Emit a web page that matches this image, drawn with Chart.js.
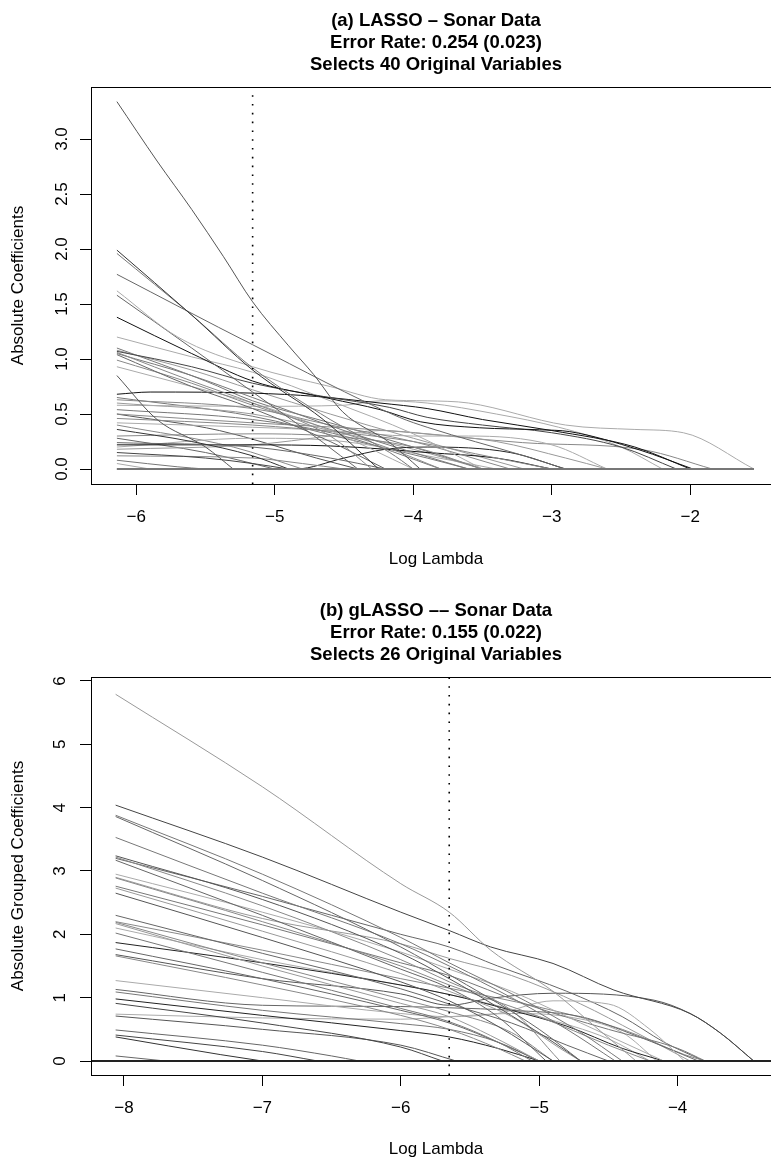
<!DOCTYPE html>
<html>
<head>
<meta charset="utf-8">
<script src="https://cdn.jsdelivr.net/npm/chart.js@4.4.1/dist/chart.umd.min.js"></script>
<style>
  html, body { margin: 0; padding: 0; background: #fff; overflow: hidden; }
  .panel { position: absolute; left: 0; }
</style>
</head>
<body>
<div class="panel" style="top:0"><canvas id="lassoChart" width="781" height="580"></canvas></div>
<div class="panel" style="top:580px"><canvas id="glassoChart" width="781" height="581"></canvas></div>
<script>
// panel (a): lasso paths, each [log lambda, |coef|]
const lassoTitle = ["(a) LASSO \u2013 Sonar Data", "Error Rate: 0.254 (0.023)", "Selects 40 Original Variables"];
const lassoXTicks = [-6, -5, -4, -3, -2];
const lassoYTicks = [0, 0.5, 1, 1.5, 2, 2.5, 3];
const lassoCvLambda = -5.16;
const lassoPaths = [
  [[-6.14,3.34],[-5.85,2.80],[-5.6,2.36],[-5.37,1.93],[-5.16,1.52],[-4.9,1.12],[-4.72,0.86],[-4.51,0.52],[-4.17,0.24],[-3.95,0]],
  [[-6.14,1.99],[-5.6,1.4],[-5.16,0.90],[-4.65,0.45],[-4.25,0]],
  [[-6.14,1.96],[-5.6,1.4],[-5.16,0.92],[-4.6,0.45],[-4.17,0.15],[-4.0,0]],
  [[-6.14,1.77],[-5.16,1.13],[-4.1,0.47],[-3.9,0.38],[-3.2,0.12],[-2.9,0]],
  [[-6.14,1.62],[-5.7,1.2],[-5.16,0.93],[-4.6,0.75],[-4.2,0.63],[-3.9,0.62],[-3.6,0.60],[-2.9,0.40],[-2.4,0.36],[-2.05,0.33],[-1.54,0]],
  [[-6.14,1.58],[-5.6,1.1],[-5.16,0.70],[-4.65,0.24],[-4.4,0]],
  [[-6.14,1.38],[-5.6,1.05],[-5.16,0.80],[-4.6,0.64],[-4.24,0.54],[-3.95,0.43],[-3.52,0.375],[-3.09,0.357],[-2.87,0.34],[-2.37,0.175],[-1.98,0]],
  [[-6.14,1.20],[-5.6,1.02],[-5.16,0.88],[-4.6,0.62],[-4.0,0.32],[-3.5,0]],
  [[-6.14,1.07],[-5.6,0.93],[-5.16,0.78],[-4.65,0.66],[-4.17,0.56],[-3.9,0.47],[-3.5,0.40],[-3.0,0.33],[-2.5,0.2],[-2.1,0]],
  [[-6.14,1.06],[-5.6,0.8],[-5.16,0.60],[-4.6,0.3],[-4.3,0]],
  [[-6.14,1.05],[-5.6,0.85],[-5.16,0.65],[-4.5,0.35],[-4.0,0.15],[-3.6,0]],
  [[-6.14,1.04],[-5.6,0.75],[-5.16,0.55],[-4.6,0.25],[-4.2,0]],
  [[-6.14,0.99],[-5.6,0.78],[-5.16,0.58],[-4.7,0.40],[-4.2,0.2],[-3.8,0]],
  [[-6.14,0.93],[-5.6,0.75],[-5.16,0.60],[-4.6,0.35],[-4.0,0]],
  [[-6.14,0.85],[-5.85,0.45],[-5.5,0.2],[-5.3,0]],
  [[-6.14,0.68],[-5.9,0.70],[-5.16,0.69],[-4.7,0.66],[-4.24,0.60],[-3.9,0.55],[-3.5,0.45],[-3.0,0.35],[-2.4,0.2],[-2.0,0]],
  [[-6.14,0.63],[-5.16,0.55],[-4.6,0.4],[-4.0,0.25],[-3.3,0]],
  [[-6.14,0.58],[-5.16,0.57],[-4.5,0.58],[-4.24,0.62],[-3.9,0.6],[-3.4,0.5],[-2.95,0.38],[-2.5,0.2],[-2.2,0]],
  [[-6.14,0.54],[-5.16,0.45],[-4.5,0.3],[-3.8,0]],
  [[-6.14,0.46],[-5.16,0.40],[-4.5,0.33],[-4.0,0.25],[-3.4,0.1],[-3.0,0]],
  [[-6.14,0.42],[-5.16,0.38],[-4.6,0.35],[-4.0,0.3],[-3.6,0.3],[-3.0,0.22],[-2.6,0]],
  [[-6.14,0.36],[-5.6,0.25],[-5.16,0.12],[-4.9,0]],
  [[-6.14,0.30],[-5.16,0.32],[-4.6,0.30],[-4.0,0.2],[-3.5,0]],
  [[-6.14,0.24],[-5.16,0.20],[-4.6,0.1],[-4.2,0]],
  [[-6.14,0.22],[-5.16,0.22],[-4.6,0.21],[-4.2,0.18],[-3.9,0.15],[-3.4,0.1],[-3.0,0]],
  [[-6.14,0.18],[-5.16,0.22],[-4.6,0.3],[-4.24,0.35],[-3.9,0.32],[-3.4,0.25],[-2.9,0.1],[-2.6,0]],
  [[-6.14,0.15],[-5.5,0.1],[-5.16,0.05],[-4.9,0]],
  [[-6.14,0.12],[-5.16,0.10],[-4.8,0.05],[-4.5,0]],
  [[-6.14,0.08],[-5.7,0.02],[-5.5,0]],
  [[-6.14,0.05],[-5.9,0]],
  [[-6.14,0],[-4.85,0],[-4.5,0.1],[-4.2,0.18],[-3.9,0.2],[-3.3,0.15],[-2.9,0]],
  [[-6.14,0.5],[-5.16,0.42],[-4.24,0.355],[-3.21,0.24],[-2.34,0.175],[-1.84,0]],
  [[-6.14,1.08],[-5.6,0.9],[-5.16,0.72],[-4.6,0.5],[-4.0,0.28],[-3.2,0]],
  [[-6.14,1.1],[-5.5,0.8],[-5.16,0.62],[-4.6,0.42],[-4.0,0.2],[-3.5,0]],
  [[-6.14,0.6],[-5.16,0.5],[-4.6,0.35],[-4.0,0.18],[-3.5,0]],
  [[-6.14,0.2],[-5.16,0.28],[-4.5,0.25],[-3.9,0.12],[-3.4,0]],
  [[-6.14,0.28],[-5.5,0.15],[-5.0,0]],
  [[-6.14,0.4],[-5.3,0.2],[-4.8,0]],
  [[-6.14,0.5],[-5.4,0.35],[-4.7,0.1],[-4.4,0]],
  [[-6.14,0.65],[-5.16,0.48],[-4.5,0.28],[-3.9,0.1],[-3.6,0]]
];
const lassoShades = ["#555","#333","#777","#666","#aaa","#666","#111","#aaa","#444","#888",
  "#777","#666","#888","#aaa","#555","#111","#888","#aaa","#777","#888",
  "#aaa","#333","#888","#666","#111","#999","#444","#888","#777","#aaa",
  "#222","#888","#999","#777","#999","#aaa","#666","#888","#555","#777"];
const lassoZeroSpan = [-6.14, -1.54];

// panel (b): group lasso paths
const glassoTitle = ["(b) gLASSO \u2013\u2013 Sonar Data", "Error Rate: 0.155 (0.022)", "Selects 26 Original Variables"];
const glassoXTicks = [-8, -7, -6, -5, -4];
const glassoYTicks = [0, 1, 2, 3, 4, 5, 6];
const glassoCvLambda = -5.65;
const glassoPaths = [
  [[-8.06,5.79],[-7,4.33],[-6,2.80],[-5.65,2.35],[-5.35,1.75],[-4.9,1.1],[-4.6,0.55],[-4.3,0]],
  [[-8.06,4.04],[-7,3.22],[-6,2.35],[-5.65,2.06],[-5.35,1.80],[-4.9,1.54],[-4.46,1.12],[-3.91,0.75],[-3.69,0.44],[-3.45,0]],
  [[-8.06,3.88],[-7,2.95],[-6,1.95],[-5.65,1.55],[-5.1,0.95],[-4.7,0.45],[-4.4,0]],
  [[-8.06,3.86],[-7,2.85],[-6,1.80],[-5.6,1.3],[-5.0,0.5],[-4.7,0]],
  [[-8.06,3.53],[-7,2.65],[-6,1.85],[-5.65,1.5],[-5.2,1.0],[-4.8,0.5],[-4.45,0]],
  [[-8.06,3.24],[-7,2.55],[-6,1.70],[-5.65,1.3],[-5.3,0.85],[-4.9,0.3],[-4.7,0]],
  [[-8.06,3.22],[-7,2.45],[-6,1.60],[-5.65,1.25],[-5.2,0.8],[-4.85,0]],
  [[-8.06,3.17],[-7,2.3],[-6,1.45],[-5.65,1.15],[-5.3,0.7],[-4.95,0]],
  [[-8.06,2.95],[-7,2.35],[-6,1.72],[-5.65,1.45],[-5.2,1.1],[-4.7,0.6],[-4.3,0.2],[-4.1,0]],
  [[-8.06,2.89],[-7,2.2],[-6,1.5],[-5.65,1.2],[-5.0,0.7],[-4.5,0.25],[-4.2,0]],
  [[-8.06,2.76],[-7,2.15],[-6,1.55],[-5.65,1.35],[-5.1,0.9],[-4.5,0.5],[-4.0,0.2],[-3.8,0]],
  [[-8.06,2.73],[-7,2.05],[-6,1.38],[-5.65,1.1],[-5.2,0.7],[-4.85,0.2],[-4.7,0]],
  [[-8.06,2.65],[-7,1.95],[-6,1.25],[-5.65,0.95],[-5.3,0.55],[-4.9,0]],
  [[-8.06,2.30],[-7,1.7],[-6,1.14],[-5.65,0.9],[-5.2,0.6],[-4.8,0.25],[-4.5,0]],
  [[-8.06,2.19],[-7,1.55],[-6,0.98],[-5.65,0.78],[-5.2,0.45],[-4.9,0]],
  [[-8.06,2.17],[-7,1.5],[-6,0.91],[-5.65,0.7],[-5.35,0.4],[-5.0,0]],
  [[-8.06,2.02],[-7,1.4],[-6,0.83],[-5.65,0.62],[-5.3,0.3],[-5.05,0]],
  [[-8.06,1.87],[-7,1.55],[-6,1.2],[-5.65,1.05],[-5.2,0.8],[-4.8,0.55],[-4.4,0.2],[-4.1,0]],
  [[-8.06,1.77],[-7,1.3],[-6,0.80],[-5.65,0.6],[-5.25,0.25],[-5.0,0]],
  [[-8.06,1.68],[-7,1.3],[-6,1.06],[-5.65,0.88],[-5.35,0.99],[-4.9,1.07],[-4.17,0.96],[-3.91,0.75],[-3.69,0.44],[-3.45,0]],
  [[-8.06,1.66],[-7,1.2],[-6,0.72],[-5.65,0.5],[-5.3,0.2],[-5.1,0]],
  [[-8.06,1.27],[-7,1.0],[-6,0.75],[-5.65,0.7],[-5.3,0.75],[-4.9,0.95],[-4.5,0.9],[-4.2,0.5],[-3.95,0]],
  [[-8.06,1.13],[-7,0.88],[-6,0.86],[-5.65,0.84],[-5.2,0.8],[-4.7,0.7],[-4.3,0.4],[-3.85,0]],
  [[-8.06,1.09],[-7,0.8],[-6,0.59],[-5.65,0.5],[-5.3,0.3],[-5.0,0]],
  [[-8.06,0.98],[-7,0.72],[-6,0.48],[-5.65,0.38],[-5.3,0.2],[-5.0,0]],
  [[-8.06,0.91],[-7,0.6],[-6,0.22],[-5.7,0]],
  [[-8.06,0.74],[-7,0.68],[-6,0.66],[-5.65,0.7],[-5.2,0.75],[-4.8,0.7],[-4.4,0.45],[-4.15,0]],
  [[-8.06,0.71],[-7,0.5],[-6,0.25],[-5.6,0]],
  [[-8.06,0.49],[-7,0.25],[-6.5,0.08],[-6.3,0]],
  [[-8.06,0.41],[-7,0.15],[-6.6,0]],
  [[-8.06,0.38],[-7.3,0.1],[-7,0]],
  [[-8.06,0.08],[-7.7,0]],
  [[-8.06,2.1],[-7,1.6],[-6,1.2],[-5.65,1.05],[-5.0,0.7],[-4.5,0.35],[-4.2,0]],
  [[-8.06,2.2],[-7,1.75],[-6,1.3],[-5.65,1.15],[-5.0,0.85],[-4.4,0.5],[-3.95,0.1],[-3.8,0]],
  [[-8.06,3.2],[-7,2.6],[-6,2.0],[-5.65,1.8],[-5.3,1.5],[-4.8,1.1],[-4.4,0.7],[-4.1,0.3],[-3.81,0]],
  [[-8.06,2.9],[-7,2.25],[-6,1.85],[-5.65,1.62],[-5.2,1.35],[-4.7,0.9],[-4.3,0.45],[-3.91,0]]
];
const glassoShades = ["#999","#444","#777","#666","#777","#555","#888","#666","#aaa","#888",
  "#777","#999","#555","#666","#888","#999","#777","#222","#666","#555",
  "#888","#aaa","#666","#777","#222","#444","#aaa","#555","#666","#444",
  "#333","#666","#aaa","#888","#666","#999"];

const FONT = "'Liberation Sans', Arial, Helvetica, sans-serif";

const boxPlugin = {
  id: "plotBox",
  afterDatasetsDraw(chart) {
    const { ctx, chartArea: a } = chart;
    ctx.save();
    ctx.strokeStyle = "#000";
    ctx.lineWidth = 1;
    ctx.strokeRect(a.left + 0.5, a.top + 0.5, a.right - a.left, a.bottom - a.top);
    ctx.restore();
  },
};

const mainTitlePlugin = {
  id: "mainTitle",
  afterDraw(chart, args, opts) {
    const { ctx, chartArea: a } = chart;
    const cx = (a.left + a.right) / 2;
    ctx.save();
    ctx.fillStyle = "#000";
    ctx.font = "bold " + opts.size + "px " + FONT;
    ctx.textAlign = "center";
    ctx.textBaseline = "middle";
    opts.lines.forEach((t, i) => ctx.fillText(t, cx, opts.y[i]));
    ctx.restore();
  },
};

const minus = (v) => (v < 0 ? "\u2212" + Math.abs(v) : String(v));

function buildChart(id, cfg) {
  const datasets = [];
  // cv lambda, dotted
  datasets.push({
    data: [{ x: cfg.cv, y: cfg.yMin }, { x: cfg.cv, y: cfg.yMax }],
    borderColor: "#000",
    borderWidth: 1.6,
    borderDash: [1.6, 7.2],
    pointRadius: 0,
  });
  // zero line
  datasets.push({
    data: [{ x: cfg.zero[0], y: 0 }, { x: cfg.zero[1], y: 0 }],
    borderColor: cfg.zeroColor,
    borderWidth: 2,
    pointRadius: 0,
  });
  cfg.paths.forEach((p, i) => {
    datasets.push({
      data: p.map(([x, y]) => ({ x, y })),
      borderColor: cfg.shades[i],
      borderWidth: 1,
      pointRadius: 0,
      cubicInterpolationMode: "monotone",
    });
  });

  return new Chart(document.getElementById(id).getContext("2d"), {
    type: "line",
    data: { datasets },
    options: {
      responsive: false,
      animation: false,
      layout: { padding: { top: cfg.top, left: 0, right: 0, bottom: 0 } },
      plugins: {
        legend: { display: false },
        tooltip: { enabled: false },
        mainTitle: { lines: cfg.title, y: cfg.titleY, size: 18.5 },
      },
      scales: {
        x: {
          type: "linear",
          min: cfg.xMin,
          max: cfg.xMax,
          afterFit: (s) => { s.height = cfg.xAxisH; },
          afterBuildTicks: (s) => { s.ticks = cfg.xTicks.map((v) => ({ value: v })); },
          ticks: { font: { family: FONT, size: 17 }, color: "#000", padding: 12, maxRotation: 0, autoSkip: false, callback: minus },
          grid: { drawOnChartArea: false, tickLength: 11, color: "#000" },
          border: { display: false },
          title: { display: true, text: "Log Lambda", font: { family: FONT, size: 17 }, color: "#000", padding: { top: 0, bottom: cfg.xTitlePad } },
        },
        y: {
          type: "linear",
          min: cfg.yMin,
          max: cfg.yMax,
          afterFit: (s) => { s.width = 91; },
          afterBuildTicks: (s) => { s.ticks = cfg.yTicks.map((v) => ({ value: v })); },
          ticks: { font: { family: FONT, size: 17 }, color: "#000", minRotation: 90, maxRotation: 90, crossAlign: "center", padding: cfg.yTickPad, callback: cfg.yFmt },
          grid: { drawOnChartArea: false, tickLength: 11, color: "#000" },
          border: { display: false },
          title: { display: true, text: cfg.yTitle, font: { family: FONT, size: 17 }, color: "#000", padding: { top: 8, bottom: 0 } },
        },
      },
    },
    plugins: [boxPlugin, mainTitlePlugin],
  });
}

buildChart("lassoChart", {
  title: lassoTitle,
  titleY: [20.7, 42.7, 64.7],
  top: 87,
  xAxisH: 96,
  xTitlePad: 10,
  xMin: -6.327, xMax: -1.345,
  yMin: -0.136, yMax: 3.473,
  xTicks: lassoXTicks,
  yTicks: lassoYTicks,
  yTickPad: 6,
  yFmt: (v) => v.toFixed(1),
  yTitle: "Absolute Coefficients",
  cv: lassoCvLambda,
  zero: lassoZeroSpan,
  zeroColor: "#777",
  paths: lassoPaths,
  shades: lassoShades,
});

buildChart("glassoChart", {
  title: glassoTitle,
  titleY: [30.7, 53.3, 75],
  top: 97,
  xAxisH: 86,
  xTitlePad: 1,
  xMin: -8.238, xMax: -3.253,
  yMin: -0.221, yMax: 6.063,
  xTicks: glassoXTicks,
  yTicks: glassoYTicks,
  yTickPad: 15,
  yFmt: (v) => String(v),
  yTitle: "Absolute Grouped Coefficients",
  cv: glassoCvLambda,
  zero: [-8.238, -3.253],
  zeroColor: "#222",
  paths: glassoPaths,
  shades: glassoShades,
});
</script>
</body>
</html>
